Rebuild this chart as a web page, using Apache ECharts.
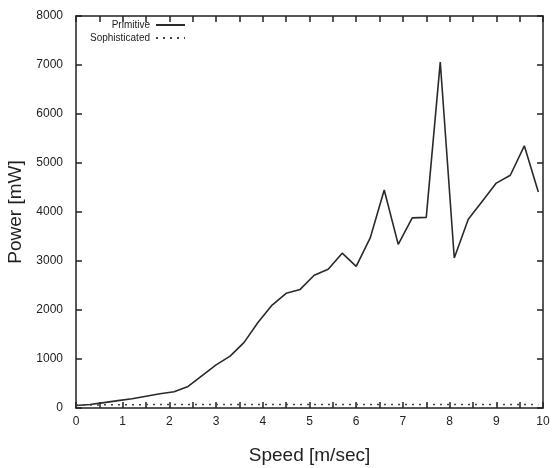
<!DOCTYPE html>
<html>
<head>
<meta charset="utf-8">
<script src="https://cdn.jsdelivr.net/npm/echarts@6/dist/echarts.min.js"></script>
<style>
  html, body { margin: 0; padding: 0; background: #fff; }
  #power_chart { width: 552px; height: 468px; }
</style>
</head>
<body>
<div id="power_chart"></div>
<script>
const speed = [0, 0.3, 0.6, 0.9, 1.2, 1.5, 1.8, 2.1, 2.4, 2.7, 3.0, 3.3, 3.6, 3.9, 4.2, 4.5, 4.8,
    5.1, 5.4, 5.7, 6.0, 6.3, 6.6, 6.9, 7.2, 7.5, 7.8, 8.1, 8.4, 8.7, 9.0, 9.3, 9.6, 9.9];
const primitive = [50, 70, 110, 150, 190, 240, 290, 330, 440, 660, 880, 1060, 1340, 1750, 2100, 2340, 2420,
    2710, 2830, 3160, 2890, 3470, 4450, 3340, 3880, 3890, 7060, 3060, 3850, 4220, 4590, 4750, 5350, 4410];
const sophisticated = [60, 60, 65, 65, 65, 70, 70, 70, 70, 70, 70, 70, 70, 70, 70, 70, 70,
    70, 70, 70, 70, 70, 70, 70, 70, 70, 70, 70, 70, 70, 70, 70, 70, 70];
const seriesNames = ['Primitive', 'Sophisticated'];

const chartDom = document.getElementById('power_chart');
const myChart = echarts.init(chartDom);

const font = 'Liberation Sans, Arial, sans-serif';

// fresh objects per axis so nothing is shared between them
function frameLine() {
    return { show: true, onZero: false, lineStyle: { color: '#222', width: 1.5 } };
}
function frameTick() {
    return { show: true, inside: true, length: 6, lineStyle: { color: '#222', width: 1.5 } };
}

function legendFor(name, top) {
    return {
        data: [name], right: 366, top: top, padding: 0, align: 'right',
        itemWidth: 29, itemHeight: 10,
        itemStyle: { opacity: 0 },
        textStyle: { fontFamily: font, fontSize: 10, color: '#222', padding: [0, 1, 0, 0] }
    };
}

const option = {
    animation: false,
    backgroundColor: '#fff',
    grid: { left: 76, right: 9, top: 16, bottom: 60, outerBoundsMode: 'none', containLabel: false },
    legend: [legendFor(seriesNames[0], 20), legendFor(seriesNames[1], 33)],
    xAxis: [
        {
            type: 'value', min: 0, max: 10, interval: 0.5, position: 'bottom',
            name: 'Speed [m/sec]', nameLocation: 'middle', nameGap: 38,
            nameTextStyle: { fontFamily: font, fontSize: 19, color: '#222' },
            axisLine: frameLine(), axisTick: frameTick(), splitLine: { show: false },
            axisLabel: {
                fontFamily: font, fontSize: 12, color: '#222', margin: 8,
                formatter: v => Number.isInteger(v) ? String(v) : ''
            }
        },
        {
            type: 'value', min: 0, max: 10, interval: 0.5, position: 'top',
            axisLine: frameLine(), axisTick: frameTick(), splitLine: { show: false },
            axisLabel: { show: false }
        }
    ],
    yAxis: [
        {
            type: 'value', min: 0, max: 8000, interval: 1000, position: 'left',
            name: 'Power [mW]', nameLocation: 'middle', nameGap: 48, nameRotate: 90,
            nameTextStyle: { fontFamily: font, fontSize: 19, color: '#222' },
            axisLine: frameLine(), axisTick: frameTick(), splitLine: { show: false },
            axisLabel: { fontFamily: font, fontSize: 12, color: '#222', margin: 13, formatter: v => String(v) }
        },
        {
            type: 'value', min: 0, max: 8000, interval: 1000, position: 'right',
            axisLine: frameLine(), axisTick: frameTick(), splitLine: { show: false },
            axisLabel: { show: false }
        }
    ],
    series: [
        {
            name: seriesNames[0],
            type: 'line',
            symbol: 'none',
            data: speed.map((s, i) => [s, primitive[i]]),
            lineStyle: { color: '#2a2a2a', width: 1.6 },
            itemStyle: { color: '#2a2a2a' }
        },
        {
            name: seriesNames[1],
            type: 'line',
            symbol: 'none',
            data: speed.map((s, i) => [s, sophisticated[i]]),
            lineStyle: { color: '#444', width: 1.5, type: [2, 5] },
            itemStyle: { color: '#444' }
        }
    ]
};

option && myChart.setOption(option);
</script>
</body>
</html>
